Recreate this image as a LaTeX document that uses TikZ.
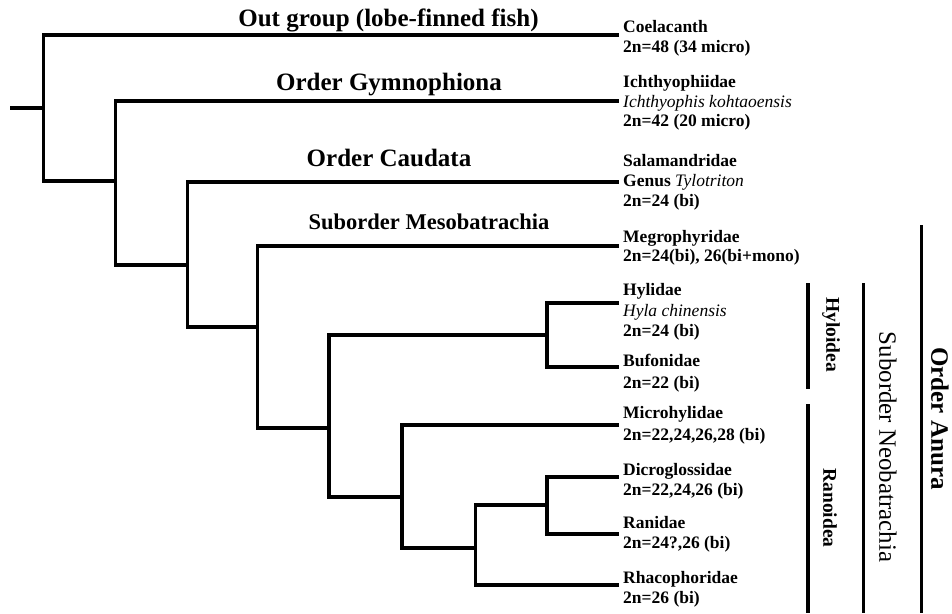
\documentclass[tikz,border=0pt]{standalone}
\usepackage{fontspec}
\setmainfont{Liberation Serif}
\begin{document}
\begin{tikzpicture}[x=1pt,y=-1pt,line join=miter,
  branch/.style={line width=3.3pt},
  bar/.style={line width=3.3pt},
  leaf/.style={anchor=base west,align=left,inner sep=0pt,font=\fontsize{17.5}{19.7}\selectfont\bfseries},
  clade/.style={anchor=base,inner sep=0pt,font=\fontsize{25}{30}\selectfont\bfseries},
  side/.style={rotate=-90,inner sep=0pt,font=\fontsize{19.5}{24}\selectfont\bfseries}]
  \useasboundingbox (0,0) rectangle (952,613);
  % inner nodes of the tree
  \coordinate (base) at (10,108);
  \coordinate (n0) at (43.5,108);
  \coordinate (n1) at (115.5,181);
  \coordinate (n2) at (187.8,265);
  \coordinate (n3) at (257.8,327);
  \coordinate (n4) at (329,428);
  \coordinate (n5) at (547,335);
  \coordinate (n6) at (402,497);
  \coordinate (n7) at (475.3,548);
  \coordinate (n8) at (547,505);
  % tips
  \coordinate (l1) at (619,35);
  \coordinate (l2) at (619,101);
  \coordinate (l3) at (619,182);
  \coordinate (l4) at (619,246);
  \coordinate (l5) at (619,303);
  \coordinate (l6) at (619,367);
  \coordinate (l7) at (619,425);
  \coordinate (l8) at (619,477);
  \coordinate (l9) at (619,534);
  \coordinate (l10) at (619,585);
  \draw[branch] (base) -- (n0);
  \foreach \p/\c in {n0/l1,n0/n1,n1/l2,n1/n2,n2/l3,n2/n3,n3/l4,n3/n4,
                     n4/n5,n4/n6,n5/l5,n5/l6,n6/l7,n6/n7,n7/n8,n7/l10,n8/l8,n8/l9}
    \draw[branch] (\p) |- (\c);
  % clade titles
  \node[clade] (outgroup) at (388.5,26.7) {Out group (lobe-finned fish)};
  \node[clade] (gymno) at (389,90.7) {Order Gymnophiona};
  \node[clade] (caudata) at (389,166.7) {Order Caudata};
  \node[clade,font=\fontsize{22.5}{27}\selectfont\bfseries] (meso) at (429,229.3) {Suborder Mesobatrachia};
  % tip labels (placed by their last line)
  \node[leaf] (coel) at (623,52.3) {Coelacanth\\2n=48 (34 micro)};
  \node[leaf] (ichth) at (623,126.7) {Ichthyophiidae\\{\mdseries\itshape Ichthyophis kohtaoensis}\\2n=42 (20 micro)};
  \node[leaf] (salam) at (623,206) {Salamandridae\\Genus {\mdseries\itshape Tylotriton}\\2n=24 (bi)};
  \node[leaf] (megro) at (623,261.7) {Megrophyridae\\2n=24(bi), 26(bi+mono)};
  \node[leaf] (hyl) at (623,336.7) {Hylidae\\[0.7pt]{\mdseries\itshape Hyla chinensis}\\[0.7pt]2n=24 (bi)};
  \node[leaf] (bufo) at (623,388) {Bufonidae\\[2pt]2n=22 (bi)};
  \node[leaf] (micro) at (623,440) {Microhylidae\\[2pt]2n=22,24,26,28 (bi)};
  \node[leaf] (dicro) at (623,495) {Dicroglossidae\\2n=22,24,26 (bi)};
  \node[leaf] (rani) at (623,548) {Ranidae\\2n=24?,26 (bi)};
  \node[leaf] (rhaco) at (623,603) {Rhacophoridae\\2n=26 (bi)};
  % brackets on the right
  \draw[bar] (808,283) -- (808,389);
  \draw[bar] (808,404) -- (808,613);
  \draw[bar] (863.5,283) -- (863.5,613);
  \draw[bar] (921.5,225) -- (921.5,613);
  \node[side] (hyloidea) at (831,334.5) {Hyloidea};
  \node[side] (ranoidea) at (830,508) {Ranoidea};
  \node[side,font=\fontsize{24.9}{30}\selectfont] (neo) at (888,447) {Suborder Neobatrachia};
  \node[side,font=\fontsize{25}{30}\selectfont\bfseries] (anura) at (940,418.5) {Order Anura};
\end{tikzpicture}
\end{document}
